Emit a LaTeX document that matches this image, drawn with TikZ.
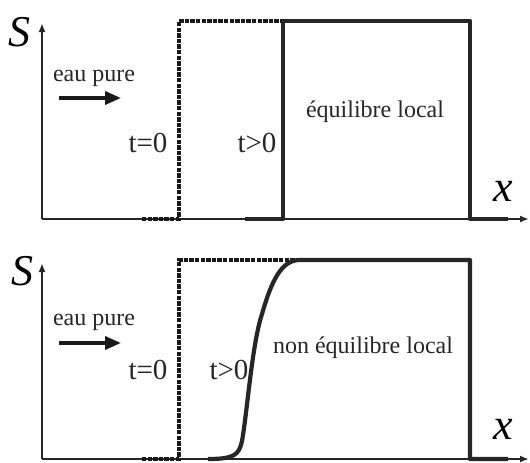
\documentclass[tikz,border=0pt]{standalone}
\usepackage{fontspec}
\setmainfont{Liberation Serif}[ItalicFont=Liberation Serif Italic]
\usetikzlibrary{arrows.meta,positioning}

\begin{document}
\begin{tikzpicture}[
        x=0.5pt, y=0.5pt,
        axis/.style={line width=1.4pt, black!85, -{Latex[length=4.5pt,width=3.5pt]}},
        profile/.style={line width=2.1pt, black!85, line join=round},
        initial/.style={line width=1.6pt, black!90, dash pattern=on 2.2pt off 0.6pt},
        flow/.style={line width=1.8pt, black!90, -{Triangle[length=8pt,width=6.5pt]}},
        varname/.style={font=\fontsize{22}{26}\selectfont\itshape, inner sep=0pt},
        label/.style={font=\fontsize{12}{14}\selectfont, inner sep=0pt, black!85},
        timelabel/.style={font=\fontsize{14.5}{17}\selectfont, inner sep=0pt, black!85},
    ]
    \useasboundingbox (0,0) rectangle (530,462);

    % Equilibre local
    \begin{scope}[shift={(42,243)}]
        \coordinate (O1) at (0,0);
        \draw[axis] (O1) -- (0,196);
        \draw[axis] (O1) -- (487,0);
        % t=0 front
        \draw[initial] (100,0) -- (137,0) -- (137,198) -- (241,198);
        % t>0 front
        \draw[profile] (203,0) -- (241,0) -- (241,198) -- (428,198) -- (428,0) -- (466,0);

        \node[varname] (S1) at (-22,187) {S};
        \node[varname] (x1) at (461,28) {x};
        \node[label] (eau1) at (52,141) {eau pure};
        \coordinate (a1) at (17,121);
        \coordinate (b1) at (79,121);
        \draw[flow] (a1) -- (b1);
        \node[timelabel] (t01) at (106,76) {t=0};
        \node[timelabel] (tp1) at (215,76) {t>0};
        \node[label] (eq1) at (333,107) {équilibre local};
    \end{scope}

    % Non equilibre local
    \begin{scope}[shift={(42,3)}]
        \coordinate (O2) at (0,0);
        \draw[axis] (O2) -- (0,196);
        \draw[axis] (O2) -- (487,0);
        % t=0 front
        \draw[initial] (100,0) -- (137,0) -- (137,199) -- (258,199);
        % t>0 front
        \draw[profile] (166,0) .. controls (192,0) and (197,4) .. (200,18)
            .. controls (205,45) and (210,115) .. (220,145)
            .. controls (230,180) and (240,199) .. (258,199)
            -- (428,199) -- (428,0) -- (466,0);

        \node[varname] (S2) at (-20,188) {S};
        \node[varname] (x2) at (461,30) {x};
        \node[label] (eau2) at (52,137) {eau pure};
        \coordinate (a2) at (17,116);
        \coordinate (b2) at (79,116);
        \draw[flow] (a2) -- (b2);
        \node[timelabel] (t02) at (106,89) {t=0};
        \node[timelabel] (tp2) at (187,89) {t>0};
        \node[label] (eq2) at (321,111) {non équilibre local};
    \end{scope}
\end{tikzpicture}
\end{document}
